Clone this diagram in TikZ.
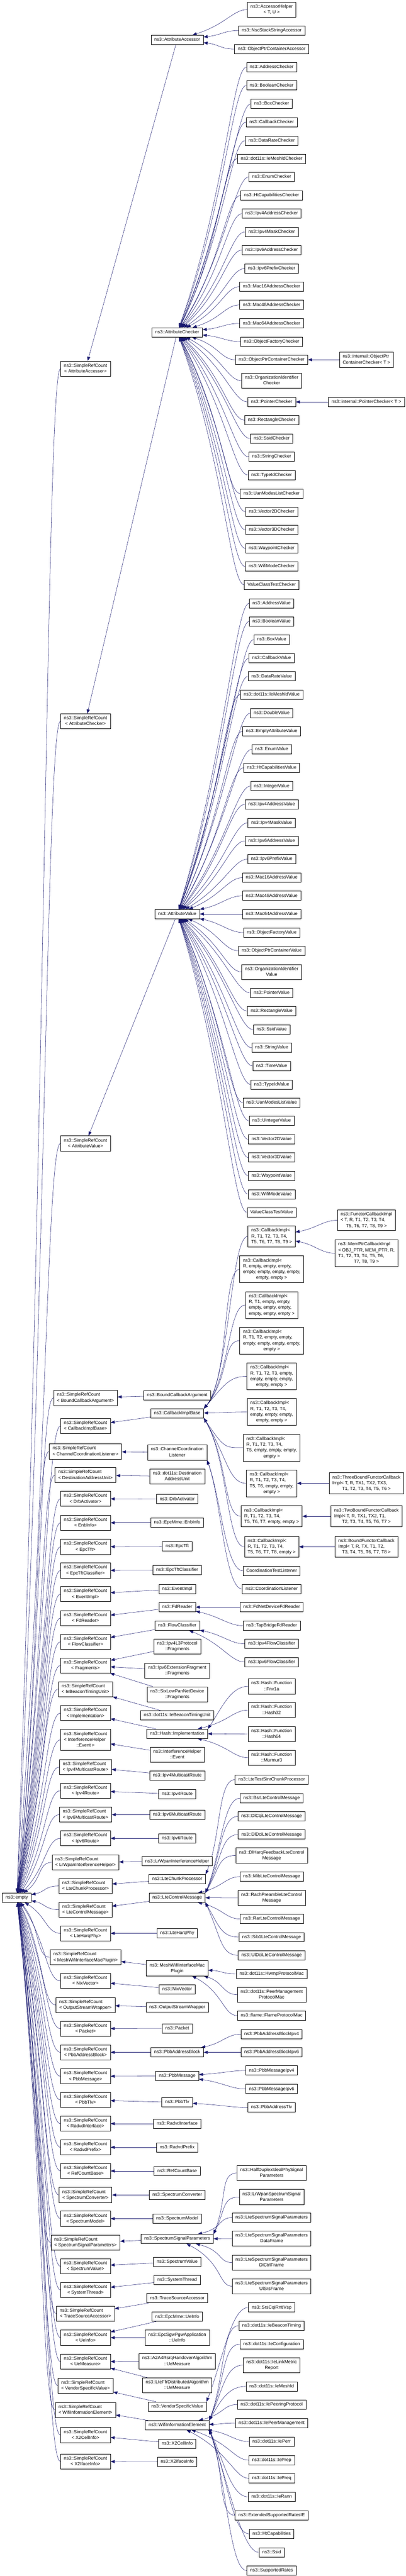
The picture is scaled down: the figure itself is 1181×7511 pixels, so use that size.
\documentclass[tikz,border=0pt]{standalone}
\usepackage{fontspec}
\setmainfont{Liberation Sans}
\usetikzlibrary{arrows.meta,calc,backgrounds}

\definecolor{edgeblue}{HTML}{191970}

% box text: lines flush left, the last line centred
\newcommand{\lbl}[1]{\begin{tabular}{@{}l@{}}#1\end{tabular}}
\newcommand{\lastrow}[1]{\multicolumn{1}{@{}c@{}}{#1}}

\tikzset{
  cls/.style={draw=black, fill=white, line width=1.1pt, inner xsep=9.5pt,
    inner ysep=5pt, font=\fontsize{13.3}{17}\selectfont},
  inh/.style={edgeblue, line width=0.8pt, -{Triangle[length=12pt,width=9pt]}}
}

\begin{document}
\begin{tikzpicture}[x=1pt,y=-1pt]
\useasboundingbox (0,0) rectangle (1181,7511);
\begin{scope}[on background layer]
  \fill[white] (0,0) rectangle (1181,7511);
\end{scope}

% root class
\node[cls] (empty) at (49,5533) {\lbl{ns3::empty}};

% SimpleRefCount< ... > column
\foreach \nm/\y in {AttributeAccessor/1075,AttributeChecker/2103,AttributeValue/3334,
    BoundCallbackArgument/4076,CallbackImplBase/4158,ChannelCoordinationListener/4232,
    DestinationAddressUnit/4301,DrbActivator/4370,EnbInfo/4440,EpcTft/4510,
    EpcTftClassifier/4579,EventImpl/4648,FdReader/4718,FlowClassifier/4787,
    Fragments/4856,IeBeaconTimingUnit/4925,Implementation/4995,
    Ipv4MulticastRoute/5152,Ipv4Route/5221,Ipv6MulticastRoute/5291,Ipv6Route/5360,
    LrWpanInterferenceHelper/5430,LteChunkProcessor/5499,LteControlMessage/5568,
    LteHarqPhy/5637,MeshWifiInterfaceMacPlugin/5707,NixVector/5776,
    OutputStreamWrapper/5846,Packet/5915,PbbAddressBlock/5984,PbbMessage/6054,
    PbbTlv/6123,RadvdInterface/6192,RadvdPrefix/6261,RefCountBase/6330,
    SpectrumConverter/6400,SpectrumModel/6469,SpectrumSignalParameters/6539,
    SpectrumValue/6608,SystemThread/6677,TraceSourceAccessor/6746,UeInfo/6816,
    UeMeasure/6886,VendorSpecificValue/6956,WifiInformationElement/7027,
    X2CellInfo/7100,X2IfaceInfo/7177}
  \node[cls] (rc\nm) at (249,\y) {\lbl{ns3::SimpleRefCount\\\lastrow{< \nm >}}};
\node[cls] (rcEvent) at (249,5073)
  {\lbl{ns3::SimpleRefCount\\< InterferenceHelper\\\lastrow{::Event >}}};

% direct children of the SimpleRefCount classes
\foreach \nm/\y in {AttributeAccessor/116,AttributeChecker/969,AttributeValue/2665,
    BoundCallbackArgument/4068,CallbackImplBase/4121,DrbActivator/4371,EpcTft/4509,
    EpcTftClassifier/4578,EventImpl/4633,FdReader/4686,FlowClassifier/4740,
    Ipv4MulticastRoute/5177,Ipv4Route/5231,Ipv6MulticastRoute/5291,Ipv6Route/5360,
    LrWpanInterferenceHelper/5427,LteChunkProcessor/5479,LteControlMessage/5533,
    LteHarqPhy/5637,NixVector/5800,OutputStreamWrapper/5853,Packet/5914,
    PbbAddressBlock/5984,PbbMessage/6053,PbbTlv/6130,RadvdInterface/6192,
    RadvdPrefix/6261,RefCountBase/6330,SpectrumConverter/6400,SpectrumModel/6469,
    SpectrumSignalParameters/6528,SpectrumValue/6595,SystemThread/6648,
    TraceSourceAccessor/6701,VendorSpecificValue/7017,WifiInformationElement/7071,
    X2CellInfo/7125,X2IfaceInfo/7178}
  \node[cls] (\nm) at (516,\y) {\lbl{ns3::\nm}};
\foreach \nm/\txt/\y in {
    ChannelCoordinationListener/{ns3::ChannelCoordination\\\lastrow{Listener}}/4235,
    DestinationAddressUnit/{ns3::dot11s::Destination\\\lastrow{AddressUnit}}/4305,
    EnbInfo/{ns3::EpcMme::EnbInfo}/4440,
    Ipv4Frag/{ns3::Ipv4L3Protocol\\\lastrow{::Fragments}}/4801,
    Ipv6Frag/{ns3::Ipv6ExtensionFragment\\\lastrow{::Fragments}}/4871,
    SixLowPanFrag/{ns3::SixLowPanNetDevice\\\lastrow{::Fragments}}/4940,
    IeBeaconTimingUnit/{ns3::dot11s::IeBeaconTimingUnit}/5001,
    HashImplementation/{ns3::Hash::Implementation}/5055,
    IHEvent/{ns3::InterferenceHelper\\\lastrow{::Event}}/5116,
    MeshWifiInterfaceMacPlugin/{ns3::MeshWifiInterfaceMac\\\lastrow{Plugin}}/5739,
    EpcMmeUeInfo/{ns3::EpcMme::UeInfo}/6755,
    SgwUeInfo/{ns3::EpcSgwPgwApplication\\\lastrow{::UeInfo}}/6816,
    A2A4UeMeasure/{ns3::A2A4RsrqHandoverAlgorithm\\\lastrow{::UeMeasure}}/6885,
    FfrUeMeasure/{ns3::LteFfrDistributedAlgorithm\\\lastrow{::UeMeasure}}/6955}
  \node[cls] (\nm) at (516,\y) {\lbl{\txt}};

% next level of subclasses
\foreach \nm/\y in {NscStackStringAccessor/89,ObjectPtrContainerAccessor/143,
    AddressChecker/196,BooleanChecker/249,BoxChecker/303,CallbackChecker/356,
    DataRateChecker/410,EnumChecker/516,HtCapabilitiesChecker/570,
    Ipv4AddressChecker/623,Ipv4MaskChecker/676,Ipv6AddressChecker/729,
    Ipv6PrefixChecker/783,Mac16AddressChecker/836,Mac48AddressChecker/889,
    Mac64AddressChecker/943,ObjectFactoryChecker/996,ObjectPtrContainerChecker/1049,
    PointerChecker/1172,RectangleChecker/1225,SsidChecker/1279,StringChecker/1332,
    TypeIdChecker/1385,UanModesListChecker/1439,Vector2DChecker/1492,
    Vector3DChecker/1545,WaypointChecker/1599,WifiModeChecker/1652,
    AddressValue/1759,BooleanValue/1812,BoxValue/1865,CallbackValue/1919,
    DataRateValue/1972,DoubleValue/2079,EmptyAttributeValue/2132,EnumValue/2185,
    HtCapabilitiesValue/2239,IntegerValue/2292,Ipv4AddressValue/2345,
    Ipv4MaskValue/2399,Ipv6AddressValue/2452,Ipv6PrefixValue/2505,
    Mac16AddressValue/2559,Mac48AddressValue/2612,Mac64AddressValue/2665,
    ObjectFactoryValue/2719,ObjectPtrContainerValue/2772,PointerValue/2895,
    RectangleValue/2948,SsidValue/3002,StringValue/3055,TimeValue/3108,
    TypeIdValue/3162,UanModesListValue/3215,UintegerValue/3268,Vector2DValue/3322,
    Vector3DValue/3375,WaypointValue/3428,WifiModeValue/3482,
    CoordinationListener/4633,FdNetDeviceFdReader/4686,TapBridgeFdReader/4740,
    Ipv4FlowClassifier/4793,Ipv6FlowClassifier/4846,LteTestSinrChunkProcessor/5189,
    BsrLteControlMessage/5243,DlCqiLteControlMessage/5296,DlDciLteControlMessage/5349,
    MibLteControlMessage/5472,RarLteControlMessage/5595,Sib1LteControlMessage/5648,
    UlDciLteControlMessage/5701,PbbAddressBlockIpv4/5931,PbbAddressBlockIpv6/5984,
    PbbMessageIpv4/6037,PbbMessageIpv6/6091,PbbAddressTlv/6145,
    LteSpectrumSignalParameters/6466,SrsCqiRntiVsp/6728,
    ExtendedSupportedRatesIE/7334,HtCapabilities/7388,Ssid/7442,SupportedRates/7495}
  \node[cls] (\nm) at (791,\y) {\lbl{ns3::\nm}};
\foreach \nm/\y in {IeMeshIdChecker/463,IeMeshIdValue/2025,HwmpProtocolMac/5755,
    IeBeaconTiming/6781,IeConfiguration/6835,IeMeshId/6958,IePeeringProtocol/7011,
    IePeerManagement/7065,IePerr/7119,IePrep/7173,IePreq/7226,IeRann/7280}
  \node[cls] (\nm) at (791,\y) {\lbl{ns3::dot11s::\nm}};
\foreach \nm/\txt/\y in {
    AccessorHelper/{ns3::AccessorHelper\\\lastrow{< T, U >}}/28,
    OrganizationIdentifierChecker/{ns3::OrganizationIdentifier\\\lastrow{Checker}}/1110,
    ValueClassTestChecker/{ValueClassTestChecker}/1705,
    OrganizationIdentifierValue/{ns3::OrganizationIdentifier\\\lastrow{Value}}/2834,
    ValueClassTestValue/{ValueClassTestValue}/3535,
    cbT9/{ns3::CallbackImpl<\\R, T1, T2, T3, T4,\\\lastrow{T5, T6, T7, T8, T9 >}}/3605,
    cbT0/{ns3::CallbackImpl<\\R, empty, empty, empty,\\empty, empty, empty, empty,\\\lastrow{empty, empty >}}/3701,
    cbT1/{ns3::CallbackImpl<\\R, T1, empty, empty,\\empty, empty, empty,\\\lastrow{empty, empty, empty >}}/3805,
    cbT2/{ns3::CallbackImpl<\\R, T1, T2, empty, empty,\\empty, empty, empty, empty,\\\lastrow{empty >}}/3909,
    cbT3/{ns3::CallbackImpl<\\R, T1, T2, T3, empty,\\empty, empty, empty,\\\lastrow{empty, empty >}}/4013,
    cbT4/{ns3::CallbackImpl<\\R, T1, T2, T3, T4,\\empty, empty, empty,\\\lastrow{empty, empty >}}/4117,
    cbT5/{ns3::CallbackImpl<\\R, T1, T2, T3, T4,\\T5, empty, empty, empty,\\\lastrow{empty >}}/4221,
    cbT6/{ns3::CallbackImpl<\\R, T1, T2, T3, T4,\\T5, T6, empty, empty,\\\lastrow{empty >}}/4325,
    cbT7/{ns3::CallbackImpl<\\R, T1, T2, T3, T4,\\\lastrow{T5, T6, T7, empty, empty >}}/4421,
    cbT8/{ns3::CallbackImpl<\\R, T1, T2, T3, T4,\\\lastrow{T5, T6, T7, T8, empty >}}/4510,
    CoordinationTestListener/{CoordinationTestListener}/4580,
    Fnv1a/{ns3::Hash::Function\\\lastrow{::Fnv1a}}/4917,
    Hash32/{ns3::Hash::Function\\\lastrow{::Hash32}}/4986,
    Hash64/{ns3::Hash::Function\\\lastrow{::Hash64}}/5056,
    Murmur3/{ns3::Hash::Function\\\lastrow{::Murmur3}}/5125,
    DlHarqFeedbackLteControlMessage/{ns3::DlHarqFeedbackLteControl\\\lastrow{Message}}/5410,
    RachPreambleLteControlMessage/{ns3::RachPreambleLteControl\\\lastrow{Message}}/5534,
    PeerManagementProtocolMac/{ns3::dot11s::PeerManagement\\\lastrow{ProtocolMac}}/5816,
    FlameProtocolMac/{ns3::flame::FlameProtocolMac}/5877,
    HalfDuplexIdealPhySignalParameters/{ns3::HalfDuplexIdealPhySignal\\\lastrow{Parameters}}/6336,
    LrWpanSpectrumSignalParameters/{ns3::LrWpanSpectrumSignal\\\lastrow{Parameters}}/6406,
    LteSpectrumSignalParametersDataFrame/{ns3::LteSpectrumSignalParameters\\\lastrow{DataFrame}}/6527,
    LteSpectrumSignalParametersDlCtrlFrame/{ns3::LteSpectrumSignalParameters\\\lastrow{DlCtrlFrame}}/6597,
    LteSpectrumSignalParametersUlSrsFrame/{ns3::LteSpectrumSignalParameters\\\lastrow{UlSrsFrame}}/6666,
    IeLinkMetricReport/{ns3::dot11s::IeLinkMetric\\\lastrow{Report}}/6896}
  \node[cls] (\nm) at (791,\y) {\lbl{\txt}};

% outermost column
\foreach \nm/\txt/\y in {
    ObjPtrContainerCheckerT/{ns3::internal::ObjectPtr\\\lastrow{ContainerChecker< T >}}/1049,
    PointerCheckerT/{ns3::internal::PointerChecker< T >}/1172,
    FunctorCallbackImpl/{ns3::FunctorCallbackImpl\\< T, R, T1, T2, T3, T4,\\\lastrow{T5, T6, T7, T8, T9 >}}/3558,
    MemPtrCallbackImpl/{ns3::MemPtrCallbackImpl\\< OBJ\_PTR, MEM\_PTR, R,\\T1, T2, T3, T4, T5, T6,\\\lastrow{T7, T8, T9 >}}/3654,
    ThreeBoundFunctorCallbackImpl/{ns3::ThreeBoundFunctorCallback\\Impl< T, R, TX1, TX2, TX3,\\\lastrow{T1, T2, T3, T4, T5, T6 >}}/4325,
    TwoBoundFunctorCallbackImpl/{ns3::TwoBoundFunctorCallback\\Impl< T, R, TX1, TX2, T1,\\\lastrow{T2, T3, T4, T5, T6, T7 >}}/4421,
    BoundFunctorCallbackImpl/{ns3::BoundFunctorCallback\\Impl< T, R, TX, T1, T2,\\\lastrow{T3, T4, T5, T6, T7, T8 >}}/4510}
  \node[cls] (\nm) at (1067,\y) {\lbl{\txt}};

\begin{scope}[on background layer]
  % every SimpleRefCount derives from ns3::empty
  \foreach \s in {AttributeAccessor,AttributeChecker,AttributeValue,
      BoundCallbackArgument,CallbackImplBase,ChannelCoordinationListener,
      DestinationAddressUnit,DrbActivator,EnbInfo,EpcTft,EpcTftClassifier,EventImpl,
      FdReader,FlowClassifier,Fragments,IeBeaconTimingUnit,Implementation,Event,
      Ipv4MulticastRoute,Ipv4Route,Ipv6MulticastRoute,Ipv6Route,
      LrWpanInterferenceHelper,LteChunkProcessor,LteControlMessage,LteHarqPhy,
      MeshWifiInterfaceMacPlugin,NixVector,OutputStreamWrapper,Packet,
      PbbAddressBlock,PbbMessage,PbbTlv,RadvdInterface,RadvdPrefix,RefCountBase,
      SpectrumConverter,SpectrumModel,SpectrumSignalParameters,SpectrumValue,
      SystemThread,TraceSourceAccessor,UeInfo,UeMeasure,VendorSpecificValue,
      WifiInformationElement,X2CellInfo,X2IfaceInfo}
    \draw[inh] (rc\s.west) .. controls +(-40,0) and ($(empty.east)!0.5!(rc\s.west)$) .. (empty);

  % classes to their SimpleRefCount base
  \foreach \c in {AttributeAccessor,AttributeChecker,AttributeValue,
      BoundCallbackArgument,CallbackImplBase,ChannelCoordinationListener,
      DestinationAddressUnit,DrbActivator,EnbInfo,EpcTft,EpcTftClassifier,EventImpl,
      FdReader,FlowClassifier,IeBeaconTimingUnit,Ipv4MulticastRoute,Ipv4Route,
      Ipv6MulticastRoute,Ipv6Route,LrWpanInterferenceHelper,LteChunkProcessor,
      LteControlMessage,LteHarqPhy,MeshWifiInterfaceMacPlugin,NixVector,
      OutputStreamWrapper,Packet,PbbAddressBlock,PbbMessage,PbbTlv,RadvdInterface,
      RadvdPrefix,RefCountBase,SpectrumConverter,SpectrumModel,
      SpectrumSignalParameters,SpectrumValue,SystemThread,TraceSourceAccessor,
      VendorSpecificValue,WifiInformationElement,X2CellInfo,X2IfaceInfo}
    \draw[inh] (\c) -- (rc\c);
  \foreach \c/\s in {Ipv4Frag/Fragments,Ipv6Frag/Fragments,SixLowPanFrag/Fragments,
      HashImplementation/Implementation,IHEvent/Event,EpcMmeUeInfo/UeInfo,
      SgwUeInfo/UeInfo,A2A4UeMeasure/UeMeasure,FfrUeMeasure/UeMeasure}
    \draw[inh] (\c) -- (rc\s);

  % subclasses fanning into their base
  \foreach \b/\kids in {
      AttributeAccessor/{AccessorHelper,NscStackStringAccessor,ObjectPtrContainerAccessor},
      AttributeChecker/{AddressChecker,BooleanChecker,BoxChecker,CallbackChecker,
        DataRateChecker,IeMeshIdChecker,EnumChecker,HtCapabilitiesChecker,
        Ipv4AddressChecker,Ipv4MaskChecker,Ipv6AddressChecker,Ipv6PrefixChecker,
        Mac16AddressChecker,Mac48AddressChecker,Mac64AddressChecker,
        ObjectFactoryChecker,ObjectPtrContainerChecker,OrganizationIdentifierChecker,
        PointerChecker,RectangleChecker,SsidChecker,StringChecker,TypeIdChecker,
        UanModesListChecker,Vector2DChecker,Vector3DChecker,WaypointChecker,
        WifiModeChecker,ValueClassTestChecker},
      AttributeValue/{AddressValue,BooleanValue,BoxValue,CallbackValue,DataRateValue,
        IeMeshIdValue,DoubleValue,EmptyAttributeValue,EnumValue,HtCapabilitiesValue,
        IntegerValue,Ipv4AddressValue,Ipv4MaskValue,Ipv6AddressValue,Ipv6PrefixValue,
        Mac16AddressValue,Mac48AddressValue,Mac64AddressValue,ObjectFactoryValue,
        ObjectPtrContainerValue,OrganizationIdentifierValue,PointerValue,
        RectangleValue,SsidValue,StringValue,TimeValue,TypeIdValue,UanModesListValue,
        UintegerValue,Vector2DValue,Vector3DValue,WaypointValue,WifiModeValue,
        ValueClassTestValue},
      CallbackImplBase/{cbT4},
      FdReader/{FdNetDeviceFdReader,TapBridgeFdReader},
      FlowClassifier/{Ipv4FlowClassifier,Ipv6FlowClassifier},
      HashImplementation/{Hash32,Hash64,Murmur3},
      LteControlMessage/{MibLteControlMessage,RachPreambleLteControlMessage,RarLteControlMessage},
      MeshWifiInterfaceMacPlugin/{HwmpProtocolMac,PeerManagementProtocolMac,FlameProtocolMac},
      PbbAddressBlock/{PbbAddressBlockIpv4,PbbAddressBlockIpv6},
      PbbMessage/{PbbMessageIpv4,PbbMessageIpv6},
      PbbTlv/{PbbAddressTlv},
      SpectrumSignalParameters/{LteSpectrumSignalParameters,
        LteSpectrumSignalParametersDataFrame,LteSpectrumSignalParametersDlCtrlFrame,
        LteSpectrumSignalParametersUlSrsFrame},
      WifiInformationElement/{IePeeringProtocol,IePeerManagement,IePerr,IePrep,IePreq},
      ObjectPtrContainerChecker/{ObjPtrContainerCheckerT},
      PointerChecker/{PointerCheckerT},
      cbT9/{FunctorCallbackImpl,MemPtrCallbackImpl},
      cbT6/{ThreeBoundFunctorCallbackImpl},
      cbT7/{TwoBoundFunctorCallbackImpl},
      cbT8/{BoundFunctorCallbackImpl}}
    \foreach \c in \kids
      \draw[inh] (\c.west) .. controls +(-40,0) and ($(\b.east)!0.5!(\c.west)$) .. (\b);

  % long ones that run down the channel beside the class column
  \foreach \c/\e/\ox/\oy in {
      cbT9/CallbackImplBase.north east/75/-90,
      cbT0/CallbackImplBase.north east/75/-90,
      cbT1/CallbackImplBase.north east/75/-90,
      cbT2/CallbackImplBase.north east/75/-90,
      cbT3/CallbackImplBase.north east/60/-70,
      cbT5/CallbackImplBase.south east/60/90,
      cbT6/CallbackImplBase.south east/70/120,
      cbT7/CallbackImplBase.south east/70/120,
      cbT8/CallbackImplBase.south east/70/120,
      CoordinationTestListener/ChannelCoordinationListener.south east/40/110,
      CoordinationListener/ChannelCoordinationListener.south east/40/110,
      Fnv1a/HashImplementation.north east/40/-60,
      LteTestSinrChunkProcessor/LteChunkProcessor.north east/45/-110,
      BsrLteControlMessage/LteControlMessage.north east/45/-110,
      DlCqiLteControlMessage/LteControlMessage.north east/45/-100,
      DlDciLteControlMessage/LteControlMessage.north east/45/-90,
      DlHarqFeedbackLteControlMessage/LteControlMessage.north east/40/-70,
      Sib1LteControlMessage/LteControlMessage.south east/40/70,
      UlDciLteControlMessage/LteControlMessage.south east/45/100,
      HalfDuplexIdealPhySignalParameters/SpectrumSignalParameters.north east/40/-100,
      LrWpanSpectrumSignalParameters/SpectrumSignalParameters.north east/35/-70,
      SrsCqiRntiVsp/VendorSpecificValue.north east/50/-130,
      IeBeaconTiming/WifiInformationElement.north east/45/-120,
      IeConfiguration/WifiInformationElement.north east/45/-110,
      IeLinkMetricReport/WifiInformationElement.north east/40/-90,
      IeMeshId/WifiInformationElement.north east/35/-60,
      IeRann/WifiInformationElement.south east/40/80,
      ExtendedSupportedRatesIE/WifiInformationElement.south east/45/110,
      HtCapabilities/WifiInformationElement.south east/50/120,
      Ssid/WifiInformationElement.south east/50/130,
      SupportedRates/WifiInformationElement.south east/50/140}
    \draw[inh] (\c.west) .. controls +(-50,0) and +(\ox,\oy) .. (\e);
\end{scope}
\end{tikzpicture}
\end{document}
